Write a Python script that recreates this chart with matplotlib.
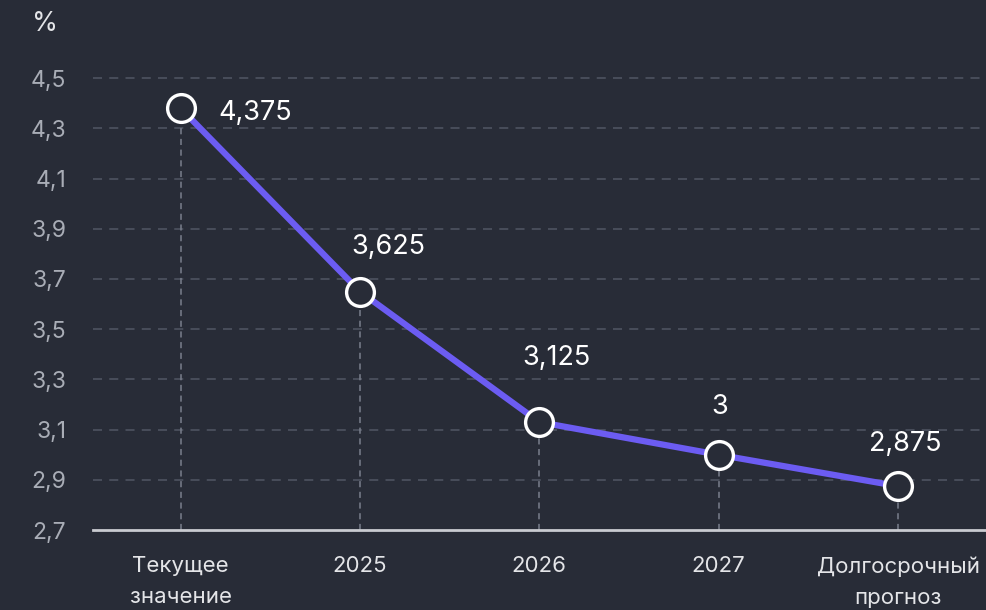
import matplotlib
matplotlib.use("Agg")
import matplotlib.pyplot as plt

categories = ["Текущее\nзначение", "2025", "2026", "2027", "Долгосрочный\nпрогноз"]
values = [4.38, 3.65, 3.13, 3.0, 2.875]
value_labels = ["4,375", "3,625", "3,125", "3", "2,875"]
yticks = [2.7, 2.9, 3.1, 3.3, 3.5, 3.7, 3.9, 4.1, 4.3, 4.5]

bg = "#282c37"
plt.rcParams['font.family'] = ['Inter', 'DejaVu Sans']

fig = plt.figure(figsize=(9.86, 6.10), dpi=100, facecolor=bg)
ax = fig.add_axes([0.094, 0.131, 0.906, 0.741], facecolor=bg)

x = list(range(len(values)))
ax.set_xlim(-0.49, 4.49)
ax.set_ylim(2.7, 4.5)

for yt in yticks[1:]:
    ax.axhline(yt, color="#4b505d", lw=1.3, ls=(0, (5, 4)), zorder=1, clip_on=False)

for xi, v in zip(x, values):
    ax.plot([xi, xi], [2.7, v], color="#7a7f8c", lw=1.1, ls=(0, (4, 3)), zorder=1)

ax.plot(x, values, color="#6c5cf2", lw=4.5, zorder=2, solid_capstyle="round")
ax.plot(x, values, ls="none", marker="o", ms=20, mfc=bg, mec="white", mew=2.4, zorder=3)

# label offsets in pixels (dx, dy) from the marker
offsets = [(38, -5), (28, 45), (17, 64), (1, 48), (7, 42)]
for i, (xi, v, lab) in enumerate(zip(x, values, value_labels)):
    dx, dy = offsets[i]
    ax.annotate(lab, (xi, v), xytext=(dx, dy), textcoords="offset pixels",
                ha="left" if i == 0 else "center", va="center",
                color="white", fontsize=19.5)

ax.set_yticks(yticks)
ax.set_yticklabels([f"{t:.1f}".replace(".", ",") for t in yticks])
ax.set_xticks(x)
ax.set_xticklabels(categories, linespacing=1.68)
ax.tick_params(axis="y", length=0, pad=19, labelsize=16.5, labelcolor="#a9adb6")
ax.tick_params(axis="x", length=0, pad=19, labelsize=16, labelcolor="#e4e5e8")

for s in ["top", "right", "left"]:
    ax.spines[s].set_visible(False)
ax.spines["bottom"].set_color("#c9cbd0")
ax.spines["bottom"].set_linewidth(2)

fig.text(45 / 986, 1 - 24 / 610, "%", color="#e4e5e8", fontsize=19, ha="center", va="center")

fig.savefig("out.png", dpi=100, facecolor=bg)
